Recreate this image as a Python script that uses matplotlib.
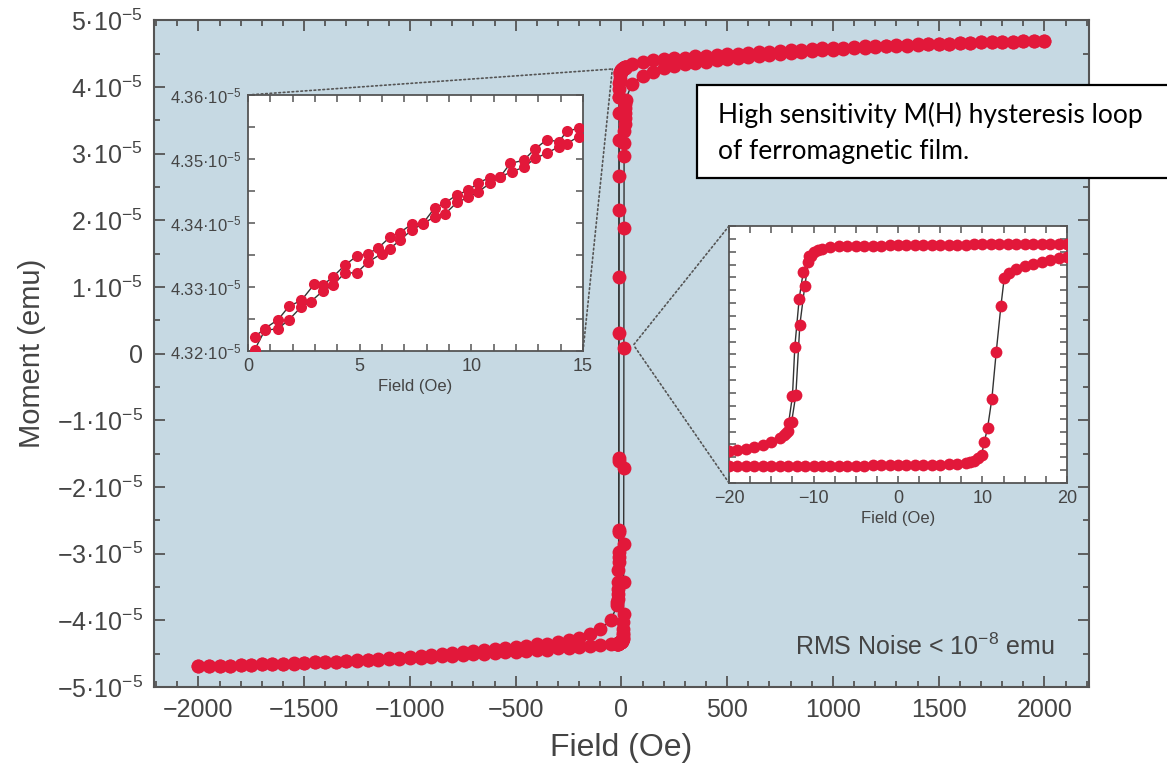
import numpy as np
import matplotlib
matplotlib.use("Agg")
import matplotlib.pyplot as plt
from matplotlib.ticker import MultipleLocator, FuncFormatter
from matplotlib.patches import ConnectionPatch, Rectangle

plt.rcParams['font.family'] = ['Liberation Sans', 'DejaVu Sans']
plt.rcParams['mathtext.default'] = 'regular'

# ---- main loop data (field in Oe, moment in 1e-5 emu) ----
# descending branch: +2000 -> +50
desc_hi_field = np.arange(2000, 0, -50)
desc_hi_m = [4.69, 4.69, 4.69, 4.68, 4.68, 4.67, 4.67, 4.66, 4.66, 4.65,
             4.65, 4.64, 4.64, 4.63, 4.63, 4.62, 4.61, 4.61, 4.60, 4.59,
             4.58, 4.58, 4.57, 4.56, 4.55, 4.54, 4.53, 4.52, 4.51, 4.50,
             4.49, 4.48, 4.47, 4.46, 4.44, 4.43, 4.42, 4.40, 4.38, 4.35]
# descending branch near zero (+20 -> -20)
desc_core_field = [20, 19, 18, 17, 16, 15, 14, 13, 12, 11, 10, 9, 8, 7, 6, 5, 4, 3, 2, 1,
                   0, -1, -2, -3, -4, -5, -6, -7, -8, -9, -9.5, -10, -10.3, -10.6,
                   -11.03, -11.62, -12.09, -12.6, -13.0, -13.5, -14, -15, -16, -17,
                   -18, -19, -20]
desc_core_m = [4.30, 4.30, 4.30, 4.30, 4.29, 4.29, 4.29, 4.29, 4.28, 4.28, 4.28, 4.28,
               4.27, 4.27, 4.27, 4.27, 4.26, 4.26, 4.26, 4.25, 4.25, 4.25, 4.24, 4.24,
               4.23, 4.23, 4.22, 4.21, 4.18, 4.12, 4.06, 3.97, 3.85, 3.61,
               2.67, 1.15, -1.57, -2.64, -2.98, -3.12, -3.25, -3.42, -3.53, -3.61,
               -3.68, -3.73, -3.77]
# descending branch: -50 -> -2000
desc_lo_field = np.arange(-50, -2001, -50)
desc_lo_m = [-4.00, -4.13, -4.20, -4.27, -4.30, -4.33, -4.35, -4.36, -4.38, -4.40,
             -4.42, -4.43, -4.45, -4.46, -4.48, -4.49, -4.50, -4.52, -4.53, -4.55,
             -4.56, -4.57, -4.58, -4.59, -4.60, -4.61, -4.62, -4.62, -4.63, -4.64,
             -4.64, -4.65, -4.66, -4.66, -4.67, -4.67, -4.68, -4.68, -4.69, -4.69]
# second sweep through the negative switching field
desc_rep_field = [-10.5, -11.22, -11.70, -12.21, -12.49, -12.95, -13.3]
desc_rep_m = [3.85, 3.20, 2.16, 0.31, -1.61, -2.67, -3.05]

# ascending branch: -2000 -> -50
asc_lo_field = np.arange(-2000, 0, 50)
asc_lo_m = [-4.69, -4.69, -4.68, -4.68, -4.67, -4.67, -4.66, -4.66, -4.65, -4.65,
            -4.64, -4.63, -4.63, -4.62, -4.61, -4.61, -4.60, -4.59, -4.58, -4.58,
            -4.57, -4.56, -4.55, -4.54, -4.53, -4.52, -4.51, -4.50, -4.49, -4.48,
            -4.47, -4.46, -4.45, -4.44, -4.42, -4.41, -4.40, -4.39, -4.37, -4.36]
# ascending branch near zero (-20 -> +20)
asc_core_field = [-20, -19, -18, -17, -16, -15, -14, -13, -12, -11, -10, -9, -8, -7, -6,
                  -5, -4, -3, -2, -1, 0, 1, 2, 3, 4, 5, 6, 7, 8, 8.5, 9, 9.5, 9.9,
                  10.2, 10.6, 11.11, 11.62, 12.18, 12.57, 13.1, 14, 15, 16, 17, 18,
                  19, 20]
asc_core_m = [-4.35, -4.35, -4.35, -4.35, -4.35, -4.34, -4.34, -4.34, -4.34, -4.34,
              -4.34, -4.33, -4.33, -4.33, -4.33, -4.33, -4.33, -4.32, -4.32, -4.32,
              -4.32, -4.31, -4.31, -4.31, -4.30, -4.30, -4.28, -4.26, -4.22, -4.19,
              -4.13, -4.03, -3.90, -3.42, -2.86, -1.72, 0.08, 1.89, 2.97, 3.16,
              3.34, 3.45, 3.54, 3.61, 3.68, 3.75, 3.81]
# ascending branch: +50 -> +2000
asc_hi_field = np.arange(50, 2001, 50)
asc_hi_m = [4.05, 4.16, 4.23, 4.28, 4.31, 4.34, 4.36, 4.38, 4.40, 4.42,
            4.44, 4.45, 4.47, 4.48, 4.50, 4.51, 4.53, 4.54, 4.55, 4.56,
            4.57, 4.58, 4.59, 4.60, 4.61, 4.62, 4.62, 4.63, 4.64, 4.64,
            4.65, 4.66, 4.66, 4.67, 4.67, 4.68, 4.68, 4.69, 4.69, 4.69]

# ---- low-field detail (inset 1), moment in 1e-5 emu ----
det_a_field = [0.30, 0.75, 1.35, 1.84, 2.39, 2.96, 3.36, 3.81, 4.34, 4.86, 5.38, 5.83,
               6.36, 6.80, 7.33, 7.85, 8.37, 8.82, 9.35, 9.87, 10.32, 10.84, 11.29,
               11.74, 12.34, 12.86, 13.38, 13.91, 14.28, 14.80]
det_a_m = [4.3222, 4.3235, 4.3249, 4.3270, 4.3279, 4.3304, 4.3303, 4.3316, 4.3334,
           4.3348, 4.3352, 4.3361, 4.3378, 4.3385, 4.3398, 4.3400, 4.3424, 4.3431,
           4.3444, 4.3451, 4.3463, 4.3471, 4.3472, 4.3493, 4.3498, 4.3516, 4.3530,
           4.3527, 4.3543, 4.3548]
det_b_field = [0.30, 0.75, 1.35, 1.84, 2.39, 2.81, 3.36, 3.81, 4.34, 4.86, 5.38, 5.98,
               6.36, 6.80, 7.33, 7.85, 8.37, 8.82, 9.35, 9.87, 10.32, 10.84, 11.29,
               11.81, 12.34, 12.86, 13.38, 13.91, 14.28, 14.80]
det_b_m = [4.3202, 4.3232, 4.3235, 4.3249, 4.3269, 4.3277, 4.3294, 4.3303, 4.3322,
           4.3322, 4.3339, 4.3352, 4.3360, 4.3373, 4.3389, 4.3399, 4.3410, 4.3414,
           4.3432, 4.3440, 4.3449, 4.3462, 4.3472, 4.3480, 4.3487, 4.3501, 4.3509,
           4.3519, 4.3524, 4.3535]

# zoom anchor points in the main plot (field, moment)
zoom1_anchor = (-43, 4.27e-5)
zoom2_anchor = (57, 0.13e-5)

RED = '#e2183a'
LINE = '#333333'
BG = '#c6d9e3'
TXT = '#444444'
SPINE = '#555555'

desc_H = np.concatenate([desc_hi_field, desc_core_field, desc_lo_field])
desc_M = np.concatenate([desc_hi_m, desc_core_m, desc_lo_m]) * 1e-5
asc_H = np.concatenate([asc_lo_field, asc_core_field, asc_hi_field])
asc_M = np.concatenate([asc_lo_m, asc_core_m, asc_hi_m]) * 1e-5
rep_H = np.array(desc_rep_field)
rep_M = np.array(desc_rep_m) * 1e-5


def draw_branches(ax, ms):
    for H, M in [(desc_H, desc_M), (asc_H, asc_M), (rep_H, rep_M)]:
        ax.plot(H, M, color=LINE, lw=1.0, zorder=2)
    for H, M in [(desc_H, desc_M), (asc_H, asc_M), (rep_H, rep_M)]:
        ax.plot(H, M, 'o', ms=ms, color=RED, mec='none', zorder=3)


def style_spines(ax, lw=1.5):
    for s in ax.spines.values():
        s.set_color(SPINE)
        s.set_linewidth(lw)


def fmt_main(v, pos):
    k = int(round(v * 1e5))
    if k == 0:
        return '0'
    sign = '\u2212' if k < 0 else ''
    return f'{sign}{abs(k)}\u00b710$^{{\u22125}}$'


def fmt_in1(v, pos):
    return f'{v * 1e5:.2f}\u00b710$^{{\u22125}}$'


fig = plt.figure(figsize=(11.67, 7.82), dpi=100)
ax = fig.add_axes([0.132, 0.1215, 0.801, 0.8525])
ax.set_facecolor(BG)
draw_branches(ax, 10)
ax.set_xlim(-2210, 2210)
ax.set_ylim(-5e-5, 5e-5)
ax.xaxis.set_major_locator(MultipleLocator(500))
ax.xaxis.set_minor_locator(MultipleLocator(100))
ax.yaxis.set_major_locator(MultipleLocator(1e-5))
ax.yaxis.set_minor_locator(MultipleLocator(0.5e-5))
ax.yaxis.set_major_formatter(FuncFormatter(fmt_main))
ax.tick_params(which='both', direction='in', top=True, right=True,
               color=SPINE, width=1.3, labelsize=18, labelcolor=TXT)
ax.tick_params(which='major', length=8, pad=8)
ax.tick_params(which='minor', length=4)
style_spines(ax)
ax.set_xlabel('Field (Oe)', fontsize=23, color=TXT, labelpad=8)
ax.set_ylabel('Moment (emu)', fontsize=21, color=TXT, labelpad=8)
ax.text(0.963, 0.06, 'RMS Noise < 10$^{\u22128}$ emu', transform=ax.transAxes,
        ha='right', va='center', fontsize=18, color=TXT)

# inset 1: low-field detail
ax1 = fig.add_axes([0.2125, 0.5512, 0.2871, 0.3274])
ax1.plot(det_a_field, np.array(det_a_m) * 1e-5, color=LINE, lw=1.0, zorder=2)
ax1.plot(det_b_field, np.array(det_b_m) * 1e-5, color=LINE, lw=1.0, zorder=2)
ax1.plot(det_a_field, np.array(det_a_m) * 1e-5, 'o', ms=8, color=RED, mec='none', zorder=3)
ax1.plot(det_b_field, np.array(det_b_m) * 1e-5, 'o', ms=8, color=RED, mec='none', zorder=3)
ax1.set_xlim(0, 15)
ax1.set_ylim(4.32e-5, 4.36e-5)
ax1.xaxis.set_major_locator(MultipleLocator(5))
ax1.xaxis.set_minor_locator(MultipleLocator(1))
ax1.yaxis.set_major_locator(MultipleLocator(0.01e-5))
ax1.yaxis.set_minor_locator(MultipleLocator(0.005e-5))
ax1.yaxis.set_major_formatter(FuncFormatter(fmt_in1))
ax1.tick_params(which='both', direction='in', top=True, right=True,
                color=SPINE, width=1.1, length=5, labelcolor=TXT)
ax1.tick_params(axis='x', labelsize=13, pad=5)
ax1.tick_params(axis='y', labelsize=12, pad=5)
style_spines(ax1, 1.3)
ax1.set_xlabel('Field (Oe)', fontsize=12, color=TXT, labelpad=3)

# inset 2: switching region
ax2 = fig.add_axes([0.6247, 0.3824, 0.2896, 0.3286])
draw_branches(ax2, 8.5)
ax2.set_xlim(-20, 20)
ax2.set_ylim(-5e-5, 5e-5)
ax2.xaxis.set_major_locator(MultipleLocator(10))
ax2.xaxis.set_minor_locator(MultipleLocator(2.5))
ax2.yaxis.set_major_locator(MultipleLocator(0.5e-5))
ax2.yaxis.set_major_formatter(FuncFormatter(lambda v, p: ''))
ax2.tick_params(which='both', direction='in', top=True, right=True,
                color=SPINE, width=1.1, length=5, labelcolor=TXT, labelsize=13, pad=5)
style_spines(ax2, 1.3)
ax2.set_xlabel('Field (Oe)', fontsize=12, color=TXT, labelpad=3)

# dotted zoom connectors
for xy in [(0, 1), (1, 0)]:
    con = ConnectionPatch(xyA=xy, coordsA=ax1.transAxes, xyB=zoom1_anchor,
                          coordsB=ax.transData, ls=':', lw=1.2, color=SPINE, zorder=5)
    fig.add_artist(con)
for xy in [(0, 1), (0, 0)]:
    con = ConnectionPatch(xyA=xy, coordsA=ax2.transAxes, xyB=zoom2_anchor,
                          coordsB=ax.transData, ls=':', lw=1.2, color=SPINE, zorder=5)
    fig.add_artist(con)

# caption box (runs off the right edge)
box = Rectangle((0.597, 0.7724), 0.45, 0.119, transform=fig.transFigure,
                facecolor='white', edgecolor='black', lw=1.6, zorder=10)
fig.add_artist(box)
fig.text(0.615, 0.853, 'High sensitivity M(H) hysteresis loop', fontsize=19,
         family=['Lato', 'DejaVu Sans'], va='center', ha='left', zorder=11)
fig.text(0.615, 0.806, 'of ferromagnetic film.', fontsize=19,
         family=['Lato', 'DejaVu Sans'], va='center', ha='left', zorder=11)

fig.savefig('out.png', dpi=100)
